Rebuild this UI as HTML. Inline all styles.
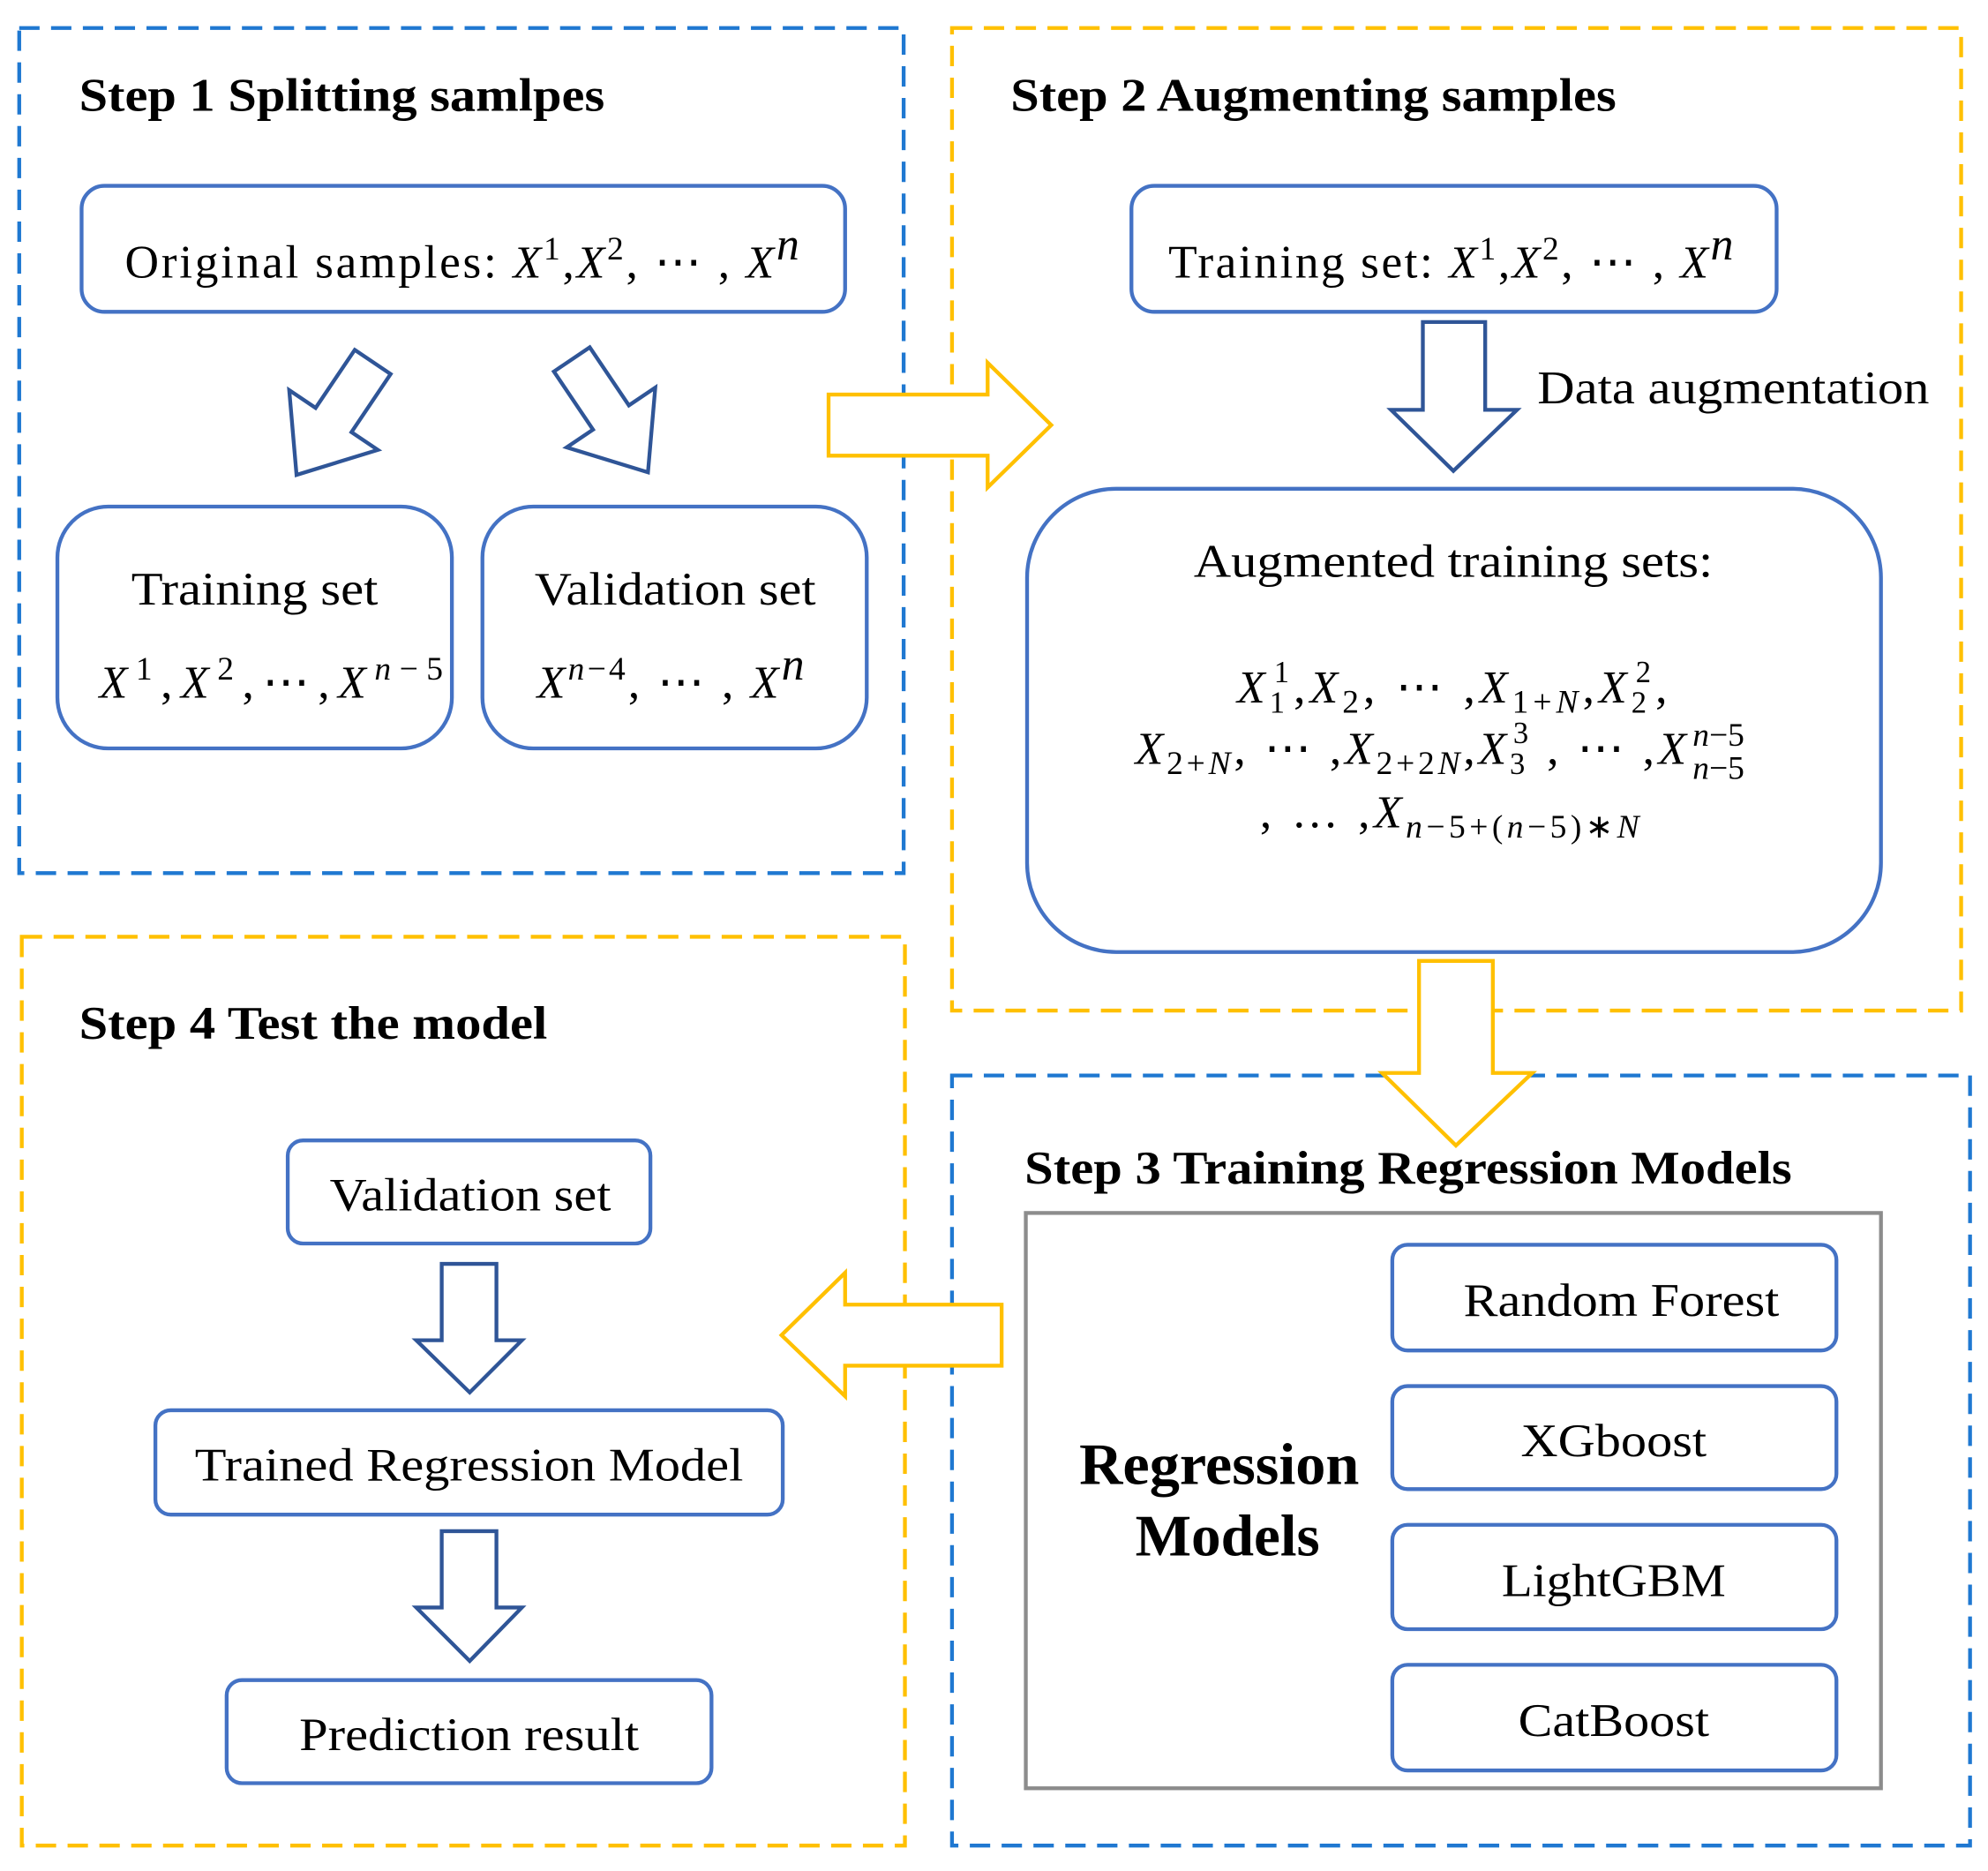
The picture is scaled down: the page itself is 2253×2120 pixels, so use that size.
<!DOCTYPE html>
<html><head><meta charset="utf-8"><style>
html,body{margin:0;padding:0;background:#fff;}
svg{display:block;}
text{font-family:"Liberation Serif",serif;fill:#000;}
.t{font-weight:bold;font-size:37px;}
.n{font-size:37px;}
.m{font-size:36px;font-style:italic;}
.bx{fill:#fff;stroke:#4472C4;stroke-width:3;}
.ar{fill:#fff;stroke:#2F5597;stroke-width:3;stroke-linejoin:miter;}
.oa{fill:#fff;stroke:#FFC000;stroke-width:3;}
</style></head><body>
<svg width="2253" height="2120" viewBox="0 0 1562 1470" xmlns="http://www.w3.org/2000/svg">
<rect x="15" y="22" width="695" height="664" fill="none" stroke="#1F78D1" stroke-width="3" stroke-dasharray="16,9"/>
<rect x="748" y="22" width="793" height="772" fill="none" stroke="#FFC000" stroke-width="3" stroke-dasharray="16,9"/>
<rect x="17" y="736" width="694" height="714" fill="none" stroke="#FFC000" stroke-width="3" stroke-dasharray="16,9"/>
<rect x="748" y="845" width="800" height="605" fill="none" stroke="#1F78D1" stroke-width="3" stroke-dasharray="16,9"/>

<!-- Step 1 -->
<text class="t" x="62" y="87" textLength="413" lengthAdjust="spacingAndGlyphs">Step 1 Splitting samlpes</text>
<rect class="bx" x="64" y="146" width="600" height="99" rx="18"/>
<text class="n" x="98" y="218" textLength="530">Original samples: <tspan class="m">X</tspan><tspan font-size="26" dy="-14">1</tspan><tspan dy="14">,</tspan><tspan class="m">X</tspan><tspan font-size="26" dy="-14">2</tspan><tspan dy="14">, ⋯ ,</tspan><tspan class="m"> X</tspan><tspan class="m" font-size="26" dy="-14">n</tspan></text>

<g transform="translate(262,330) rotate(34)"><polygon class="ar" points="-17,-55 17,-55 17,0 42,0 0,52 -42,0 -17,0"/></g>
<g transform="translate(480,328) rotate(-34)"><polygon class="ar" points="-17,-55 17,-55 17,0 42,0 0,52 -42,0 -17,0"/></g>

<rect class="bx" x="45" y="398" width="310" height="190" rx="40"/>
<text class="n" x="103" y="475" textLength="194" lengthAdjust="spacingAndGlyphs">Training set</text>
<text class="n" x="78" y="548" textLength="270"><tspan class="m">X</tspan><tspan font-size="26" dy="-14">1</tspan><tspan dy="14">,</tspan><tspan class="m">X</tspan><tspan font-size="26" dy="-14">2</tspan><tspan dy="14">,⋯,</tspan><tspan class="m">X</tspan><tspan font-size="26" dy="-14"><tspan font-style="italic">n</tspan>−5</tspan></text>
<rect class="bx" x="379" y="398" width="302" height="190" rx="40"/>
<text class="n" x="420" y="475" textLength="221" lengthAdjust="spacingAndGlyphs">Validation set</text>
<text class="n" x="422" y="548" textLength="210"><tspan class="m">X</tspan><tspan font-size="26" dy="-14"><tspan font-style="italic">n</tspan>−4</tspan><tspan dy="14">, ⋯ ,</tspan><tspan class="m"> X</tspan><tspan class="m" font-size="26" dy="-14">n</tspan></text>

<polygon class="oa" points="651,310 776,310 776,285 826,334 776,383 776,358 651,358"/>

<!-- Step 2 -->
<text class="t" x="794" y="87" textLength="476" lengthAdjust="spacingAndGlyphs">Step 2 Augmenting samples</text>
<rect class="bx" x="889" y="146" width="507" height="99" rx="18"/>
<text class="n" x="918" y="218" textLength="444">Training set: <tspan class="m">X</tspan><tspan font-size="26" dy="-14">1</tspan><tspan dy="14">,</tspan><tspan class="m">X</tspan><tspan font-size="26" dy="-14">2</tspan><tspan dy="14">, ⋯ ,</tspan><tspan class="m"> X</tspan><tspan class="m" font-size="26" dy="-14">n</tspan></text>
<polygon class="ar" points="1118,253 1167,253 1167,322 1192,322 1142,370 1093,322 1118,322"/>
<text class="n" x="1208" y="317" textLength="308" lengthAdjust="spacingAndGlyphs">Data augmentation</text>
<rect class="bx" x="807" y="384" width="671" height="364" rx="70"/>
<text class="n" x="938" y="453" textLength="408" lengthAdjust="spacingAndGlyphs">Augmented training sets:</text>
<text class="n" x="972" y="552" textLength="338"><tspan class="m">X</tspan><tspan font-size="24" dy="8">1</tspan><tspan font-size="24" dx="-12" dy="-24">1</tspan><tspan dy="16">,</tspan><tspan class="m">X</tspan><tspan font-size="26" dy="8">2</tspan><tspan dy="-8">, ⋯ ,</tspan><tspan class="m">X</tspan><tspan font-size="26" dy="8">1+<tspan font-style="italic">N</tspan></tspan><tspan dy="-8">,</tspan><tspan class="m">X</tspan><tspan font-size="24" dy="8">2</tspan><tspan font-size="24" dx="-12" dy="-24">2</tspan><tspan dy="16">,</tspan></text>
<text class="n" x="892" y="600" textLength="408"><tspan class="m">X</tspan><tspan font-size="26" dy="8">2+<tspan font-style="italic">N</tspan></tspan><tspan dy="-8">, ⋯ ,</tspan><tspan class="m">X</tspan><tspan font-size="26" dy="8">2+2<tspan font-style="italic">N</tspan></tspan><tspan dy="-8">,</tspan><tspan class="m">X</tspan><tspan font-size="24" dy="8">3</tspan><tspan font-size="24" dx="-12" dy="-24">3</tspan><tspan dy="16"> , ⋯ ,</tspan></text>
<text class="m" x="1303" y="600">X</text>
<text font-size="26" x="1330" y="612"><tspan font-style="italic">n</tspan>−5</text>
<text font-size="26" x="1330" y="586"><tspan font-style="italic">n</tspan>−5</text>
<text class="n" x="990" y="650" textLength="298"><tspan>, … ,</tspan><tspan class="m">X</tspan><tspan font-size="26" dy="8"><tspan font-style="italic">n</tspan>−5+(<tspan font-style="italic">n</tspan>−5)∗<tspan font-style="italic">N</tspan></tspan></text>

<polygon class="oa" points="1115,755 1173,755 1173,843 1204,843 1144,900 1086,843 1115,843"/>

<!-- Step 3 -->
<text class="t" x="805" y="930" textLength="603" lengthAdjust="spacingAndGlyphs">Step 3 Training Regression Models</text>
<rect x="806" y="953" width="672" height="452" fill="#fff" stroke="#8c8c8c" stroke-width="3"/>
<text x="848" y="1166" font-weight="bold" font-size="46" textLength="220" lengthAdjust="spacingAndGlyphs">Regression</text>
<text x="892" y="1222" font-weight="bold" font-size="46" textLength="145" lengthAdjust="spacingAndGlyphs">Models</text>
<rect class="bx" x="1094" y="978" width="349" height="83" rx="12"/>
<text class="n" x="1150" y="1034" textLength="248" lengthAdjust="spacingAndGlyphs">Random Forest</text>
<rect class="bx" x="1094" y="1089" width="349" height="81" rx="12"/>
<text class="n" x="1195" y="1144" textLength="146" lengthAdjust="spacingAndGlyphs">XGboost</text>
<rect class="bx" x="1094" y="1198" width="349" height="82" rx="12"/>
<text class="n" x="1180" y="1254" textLength="176" lengthAdjust="spacingAndGlyphs">LightGBM</text>
<rect class="bx" x="1094" y="1308" width="349" height="83" rx="12"/>
<text class="n" x="1193" y="1364" textLength="150" lengthAdjust="spacingAndGlyphs">CatBoost</text>

<polygon class="oa" points="787,1025 664,1025 664,1000 614,1049 664,1097 664,1073 787,1073"/>

<!-- Step 4 -->
<text class="t" x="62" y="816" textLength="368" lengthAdjust="spacingAndGlyphs">Step 4 Test the model</text>
<rect class="bx" x="226" y="896" width="285" height="81" rx="12"/>
<text class="n" x="259" y="951" textLength="221" lengthAdjust="spacingAndGlyphs">Validation set</text>
<polygon class="ar" points="347,993 390,993 390,1053 410,1053 369,1094 327,1053 347,1053"/>
<rect class="bx" x="122" y="1108" width="493" height="82" rx="12"/>
<text class="n" x="153" y="1163" textLength="431" lengthAdjust="spacingAndGlyphs">Trained Regression Model</text>
<polygon class="ar" points="347,1203 390,1203 390,1263 410,1263 369,1305 327,1263 347,1263"/>
<rect class="bx" x="178" y="1320" width="381" height="81" rx="12"/>
<text class="n" x="235" y="1375" textLength="267" lengthAdjust="spacingAndGlyphs">Prediction result</text>
</svg>
</body></html>
